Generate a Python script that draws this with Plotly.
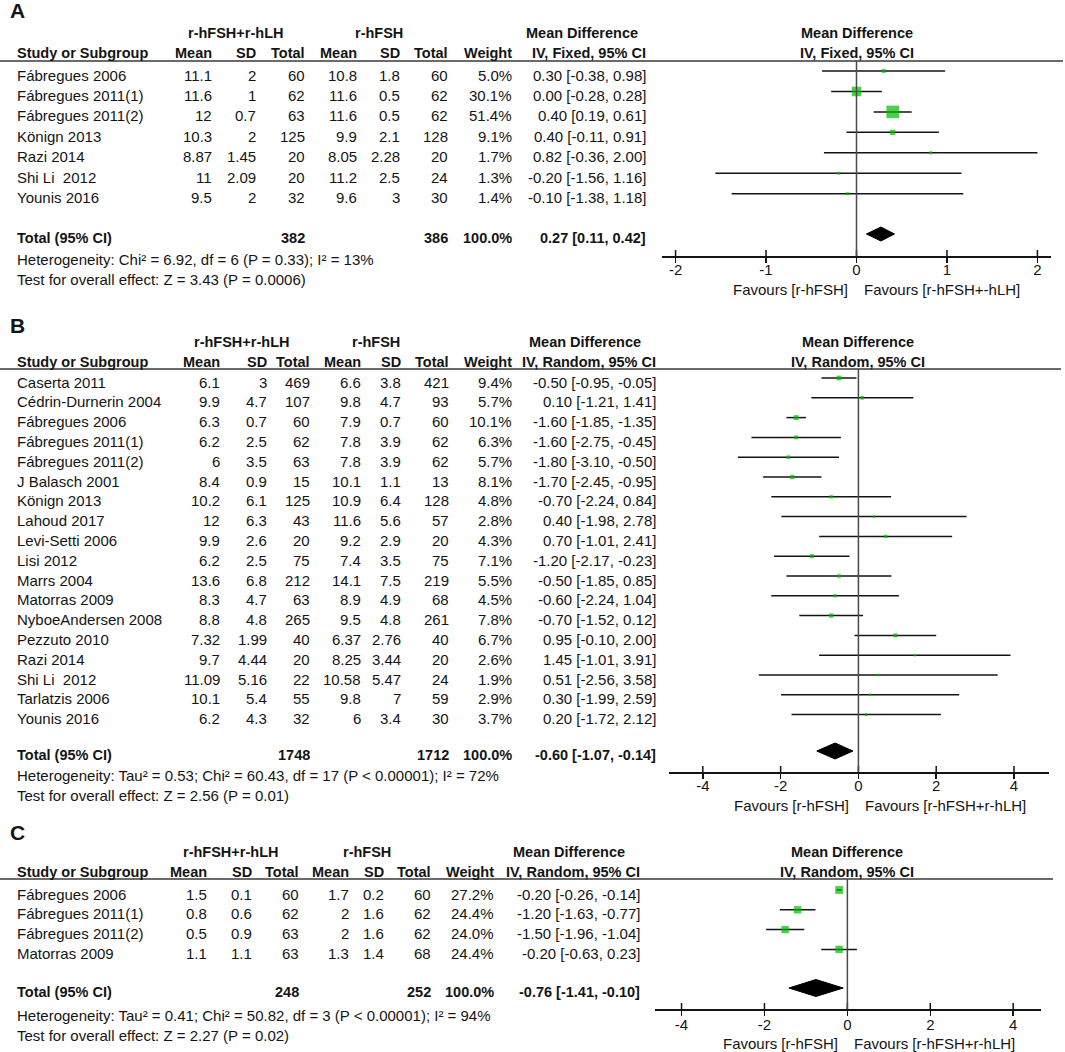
import plotly.graph_objects as go

W, H = 1065, 1052
FONT = "Liberation Sans, Arial, Helvetica, sans-serif"
INK = "#141414"
GREEN = "#00bb00"

# ---------------- Panel A data ----------------
a_study = ["Fábregues 2006", "Fábregues 2011(1)", "Fábregues 2011(2)", "Könign 2013",
           "Razi 2014", "Shi Li\u00a0 2012", "Younis 2016"]
a_exp_mean = [11.1, 11.6, 12, 10.3, 8.87, 11, 9.5]
a_exp_sd = [2, 1, 0.7, 2, 1.45, 2.09, 2]
a_exp_n = [60, 62, 63, 125, 20, 20, 32]
a_ctl_mean = [10.8, 11.6, 11.6, 9.9, 8.05, 11.2, 9.6]
a_ctl_sd = [1.8, 0.5, 0.5, 2.1, 2.28, 2.5, 3]
a_ctl_n = [60, 62, 62, 128, 20, 24, 30]
a_weight = [5.0, 30.1, 51.4, 9.1, 1.7, 1.3, 1.4]
a_md = [0.30, 0.00, 0.40, 0.40, 0.82, -0.20, -0.10]
a_lo = [-0.38, -0.28, 0.19, -0.11, -0.36, -1.56, -1.38]
a_hi = [0.98, 0.28, 0.61, 0.91, 2.00, 1.16, 1.18]
a_total_n = [382, 386]
a_total_w = 100.0
a_total_md = [0.27, 0.11, 0.42]
a_het = "Heterogeneity: Chi² = 6.92, df = 6 (P = 0.33); I² = 13%"
a_test = "Test for overall effect: Z = 3.43 (P = 0.0006)"
a_method = "IV, Fixed, 95% CI"
a_favours = ["Favours [r-hFSH]", "Favours [r-hFSH+-hLH]"]
a_ticks = [-2, -1, 0, 1, 2]

# ---------------- Panel B data ----------------
b_study = ["Caserta 2011", "Cédrin-Durnerin 2004", "Fábregues 2006", "Fábregues 2011(1)",
           "Fábregues 2011(2)", "J Balasch 2001", "Könign 2013", "Lahoud 2017",
           "Levi-Setti 2006", "Lisi 2012", "Marrs 2004", "Matorras 2009",
           "NyboeAndersen 2008", "Pezzuto 2010", "Razi 2014", "Shi Li\u00a0 2012",
           "Tarlatzis 2006", "Younis 2016"]
b_exp_mean = [6.1, 9.9, 6.3, 6.2, 6, 8.4, 10.2, 12, 9.9, 6.2, 13.6, 8.3, 8.8, 7.32, 9.7, 11.09, 10.1, 6.2]
b_exp_sd = [3, 4.7, 0.7, 2.5, 3.5, 0.9, 6.1, 6.3, 2.6, 2.5, 6.8, 4.7, 4.8, 1.99, 4.44, 5.16, 5.4, 4.3]
b_exp_n = [469, 107, 60, 62, 63, 15, 125, 43, 20, 75, 212, 63, 265, 40, 20, 22, 55, 32]
b_ctl_mean = [6.6, 9.8, 7.9, 7.8, 7.8, 10.1, 10.9, 11.6, 9.2, 7.4, 14.1, 8.9, 9.5, 6.37, 8.25, 10.58, 9.8, 6]
b_ctl_sd = [3.8, 4.7, 0.7, 3.9, 3.9, 1.1, 6.4, 5.6, 2.9, 3.5, 7.5, 4.9, 4.8, 2.76, 3.44, 5.47, 7, 3.4]
b_ctl_n = [421, 93, 60, 62, 62, 13, 128, 57, 20, 75, 219, 68, 261, 40, 20, 24, 59, 30]
b_weight = [9.4, 5.7, 10.1, 6.3, 5.7, 8.1, 4.8, 2.8, 4.3, 7.1, 5.5, 4.5, 7.8, 6.7, 2.6, 1.9, 2.9, 3.7]
b_md = [-0.50, 0.10, -1.60, -1.60, -1.80, -1.70, -0.70, 0.40, 0.70, -1.20, -0.50, -0.60, -0.70, 0.95, 1.45, 0.51, 0.30, 0.20]
b_lo = [-0.95, -1.21, -1.85, -2.75, -3.10, -2.45, -2.24, -1.98, -1.01, -2.17, -1.85, -2.24, -1.52, -0.10, -1.01, -2.56, -1.99, -1.72]
b_hi = [-0.05, 1.41, -1.35, -0.45, -0.50, -0.95, 0.84, 2.78, 2.41, -0.23, 0.85, 1.04, 0.12, 2.00, 3.91, 3.58, 2.59, 2.12]
b_total_n = [1748, 1712]
b_total_w = 100.0
b_total_md = [-0.60, -1.07, -0.14]
b_het = "Heterogeneity: Tau² = 0.53; Chi² = 60.43, df = 17 (P < 0.00001); I² = 72%"
b_test = "Test for overall effect: Z = 2.56 (P = 0.01)"
b_method = "IV, Random, 95% CI"
b_favours = ["Favours [r-hFSH]", "Favours [r-hFSH+r-hLH]"]
b_ticks = [-4, -2, 0, 2, 4]

# ---------------- Panel C data ----------------
c_study = ["Fábregues 2006", "Fábregues 2011(1)", "Fábregues 2011(2)", "Matorras 2009"]
c_exp_mean = [1.5, 0.8, 0.5, 1.1]
c_exp_sd = [0.1, 0.6, 0.9, 1.1]
c_exp_n = [60, 62, 63, 63]
c_ctl_mean = [1.7, 2, 2, 1.3]
c_ctl_sd = [0.2, 1.6, 1.6, 1.4]
c_ctl_n = [60, 62, 62, 68]
c_weight = [27.2, 24.4, 24.0, 24.4]
c_md = [-0.20, -1.20, -1.50, -0.20]
c_lo = [-0.26, -1.63, -1.96, -0.63]
c_hi = [-0.14, -0.77, -1.04, 0.23]
c_total_n = [248, 252]
c_total_w = 100.0
c_total_md = [-0.76, -1.41, -0.10]
c_het = "Heterogeneity: Tau² = 0.41; Chi² = 50.82, df = 3 (P < 0.00001); I² = 94%"
c_test = "Test for overall effect: Z = 2.27 (P = 0.02)"
c_method = "IV, Random, 95% CI"
c_favours = ["Favours [r-hFSH]", "Favours [r-hFSH+r-hLH]"]
c_ticks = [-4, -2, 0, 2, 4]

group_labels = ["r-hFSH+r-hLH", "r-hFSH", "Mean Difference"]
col_headers = ["Study or Subgroup", "Mean", "SD", "Total", "Mean", "SD", "Total", "Weight"]

panels = [
    dict(label="A", study=a_study, em=a_exp_mean, esd=a_exp_sd, en=a_exp_n, cm=a_ctl_mean,
         csd=a_ctl_sd, cn=a_ctl_n, w=a_weight, md=a_md, lo=a_lo, hi=a_hi, tn=a_total_n,
         tw=a_total_w, tot=a_total_md, het=a_het, test=a_test, method=a_method,
         fav=a_favours, ticks=a_ticks),
    dict(label="B", study=b_study, em=b_exp_mean, esd=b_exp_sd, en=b_exp_n, cm=b_ctl_mean,
         csd=b_ctl_sd, cn=b_ctl_n, w=b_weight, md=b_md, lo=b_lo, hi=b_hi, tn=b_total_n,
         tw=b_total_w, tot=b_total_md, het=b_het, test=b_test, method=b_method,
         fav=b_favours, ticks=b_ticks),
    dict(label="C", study=c_study, em=c_exp_mean, esd=c_exp_sd, en=c_exp_n, cm=c_ctl_mean,
         csd=c_ctl_sd, cn=c_ctl_n, w=c_weight, md=c_md, lo=c_lo, hi=c_hi, tn=c_total_n,
         tw=c_total_w, tot=c_total_md, het=c_het, test=c_test, method=c_method,
         fav=c_favours, ticks=c_ticks),
]

# layout geometry (pixels)
geoms = [
    dict(label_y=10, h1=33, h2=53, line_y=61, line_x1=1063, row0=75, dy=20.45,
         total_y=238, het_y=259, test_y=279, axis_y=256, fav_y=289, standoff=-6,
         dom=(662, 1051), rng=(-2.15, 2.15),
         cols=[15, 214, 258, 307, 359, 402, 450, 514, 648], h1x=[235, 379, 582],
         box_k=1.75, box_min=3, dia_h=14),
    dict(label_y=325, h1=342, h2=362, line_y=369, line_x1=1061, row0=382, dy=19.8,
         total_y=755, het_y=775, test_y=795, axis_y=772, fav_y=805, standoff=-6,
         dom=(669, 1049), rng=(-4.87, 4.90),
         cols=[15, 222, 269, 312, 363, 403, 451, 514, 658], h1x=[241, 376, 585],
         box_k=1.55, box_min=2.5, dia_h=16),
    dict(label_y=832, h1=852, h2=872, line_y=879, line_x1=1053, row0=894, dy=19.8,
         total_y=992, het_y=1015, test_y=1035, axis_y=1009, fav_y=1043, standoff=-4,
         dom=(655, 1041), rng=(-4.64, 4.67),
         cols=[15, 209, 254, 301, 351, 386, 433, 496, 642], h1x=[230, 367, 569],
         box_k=1.5, box_min=3, dia_h=17),
]
MARK_DY = -4
TICK_UP = 6
BOLD_SIZE = 14.5

fig = go.Figure()
annotations, shapes = [], []
axes = {}


def num(v):
    return f"{v:g}"


def ann(text, x, y, anchor="right", bold=False, size=15, xref="paper", xshift=0):
    if bold and size == 15:
        size = BOLD_SIZE
    annotations.append(dict(
        text=f"<b>{text}</b>" if bold else text,
        x=x / W if xref == "paper" else x, y=y, xref=xref, yref="y",
        xanchor=anchor, yanchor="middle", showarrow=False, xshift=xshift,
        font=dict(family=FONT, size=size, color=INK)))


for k, (p, g) in enumerate(zip(panels, geoms), start=1):
    xa = "x" if k == 1 else f"x{k}"
    cols = g["cols"]
    n = len(p["study"])
    rows = [g["row0"] + i * g["dy"] for i in range(n)]

    # panel label
    ann(p["label"], 8, g["label_y"], anchor="left", bold=True, size=21)
    # headers
    for j in range(3):
        ann(group_labels[j], g["h1x"][j], g["h1"], anchor="center", bold=True)
    ann(col_headers[0], cols[0], g["h2"], anchor="left", bold=True)
    for j in range(1, 8):
        ann(col_headers[j], cols[j], g["h2"], bold=True)
    ann(p["method"], cols[8], g["h2"], bold=True)
    ann(group_labels[2], 0, g["h1"], anchor="center", bold=True, xref=xa)
    ann(p["method"], 0, g["h2"], anchor="center", bold=True, xref=xa)

    # rows
    for i in range(n):
        y = rows[i]
        ann(p["study"][i], cols[0], y, anchor="left")
        vals = [num(p["em"][i]), num(p["esd"][i]), num(p["en"][i]),
                num(p["cm"][i]), num(p["csd"][i]), num(p["cn"][i]),
                f"{p['w'][i]:.1f}%",
                f"{p['md'][i]:.2f} [{p['lo'][i]:.2f}, {p['hi'][i]:.2f}]"]
        for j, v in enumerate(vals, start=1):
            ann(v, cols[j], y)

    # total row
    ty = g["total_y"]
    est, tlo, thi = p["tot"]
    ann("Total (95% CI)", cols[0], ty, anchor="left", bold=True)
    ann(num(p["tn"][0]), cols[3], ty, bold=True)
    ann(num(p["tn"][1]), cols[6], ty, bold=True)
    ann(f"{p['tw']:.1f}%", cols[7], ty, bold=True)
    ann(f"{est:.2f} [{tlo:.2f}, {thi:.2f}]", cols[8], ty, bold=True)
    ann(p["het"], cols[0], g["het_y"], anchor="left")
    ann(p["test"], cols[0], g["test_y"], anchor="left")

    # favours
    ann(p["fav"][0], 0, g["fav_y"], anchor="right", xref=xa, xshift=-7)
    ann(p["fav"][1], 0, g["fav_y"], anchor="left", xref=xa, xshift=5)

    # lines
    shapes.append(dict(type="line", xref="paper", yref="y", x0=0, x1=g["line_x1"] / W,
                       y0=g["line_y"], y1=g["line_y"], line=dict(color="#3a3a3a", width=1.5)))
    shapes.append(dict(type="line", xref=xa, yref="y", x0=0, x1=0,
                       y0=g["line_y"], y1=g["axis_y"], line=dict(color="#4a4a4a", width=1.5)))

    # CI lines
    ym = [r + MARK_DY for r in rows]
    lx, ly = [], []
    for lo, hi, y in zip(p["lo"], p["hi"], ym):
        lx += [lo, hi, None]
        ly += [y, y, None]
    fig.add_trace(go.Scatter(x=lx, y=ly, xaxis=xa, yaxis="y", mode="lines",
                             line=dict(color=INK, width=1.5), hoverinfo="skip", showlegend=False))
    sizes = [max(g["box_min"], g["box_k"] * w ** 0.5) for w in p["w"]]
    fig.add_trace(go.Scatter(x=p["md"], y=ym, xaxis=xa, yaxis="y", mode="markers",
                             marker=dict(symbol="square", size=sizes, color=GREEN, line=dict(width=0)),
                             hoverinfo="skip", showlegend=False))
    yc = ty + MARK_DY
    hh = g["dia_h"] / 2
    fig.add_trace(go.Scatter(x=[tlo, est, thi, est, tlo], y=[yc, yc - hh, yc, yc + hh, yc],
                             xaxis=xa, yaxis="y", mode="lines", fill="toself", fillcolor="black",
                             line=dict(color="black", width=1), hoverinfo="skip", showlegend=False))
    # upper half of tick marks
    tx, tyy = [], []
    for t in p["ticks"]:
        tx += [t, t, None]
        tyy += [g["axis_y"], g["axis_y"] - TICK_UP, None]
    fig.add_trace(go.Scatter(x=tx, y=tyy, xaxis=xa, yaxis="y", mode="lines",
                             line=dict(color=INK, width=1.5), hoverinfo="skip", showlegend=False))

    axes["xaxis" if k == 1 else f"xaxis{k}"] = dict(
        domain=[g["dom"][0] / W, g["dom"][1] / W], range=list(g["rng"]),
        anchor="free", position=1 - g["axis_y"] / H,
        showgrid=False, zeroline=False, showline=True, linecolor=INK, linewidth=1.5,
        ticks="outside", ticklen=5, tickwidth=1.5, tickcolor=INK,
        ticklabelstandoff=g["standoff"],
        tickvals=p["ticks"], ticktext=[num(t) for t in p["ticks"]],
        tickfont=dict(family=FONT, size=15, color=INK), fixedrange=True)

fig.update_layout(
    width=W, height=H, autosize=False,
    margin=dict(l=0, r=0, t=0, b=0, pad=0),
    paper_bgcolor="white", plot_bgcolor="rgba(0,0,0,0)",
    showlegend=False,
    yaxis=dict(domain=[0, 1], range=[H, 0], visible=False, fixedrange=True),
    annotations=annotations, shapes=shapes,
    **axes,
)

fig.write_html("out.html", config={"displayModeBar": False, "staticPlot": True},
               post_script="document.body.style.margin='0';document.body.style.overflow='hidden';")
